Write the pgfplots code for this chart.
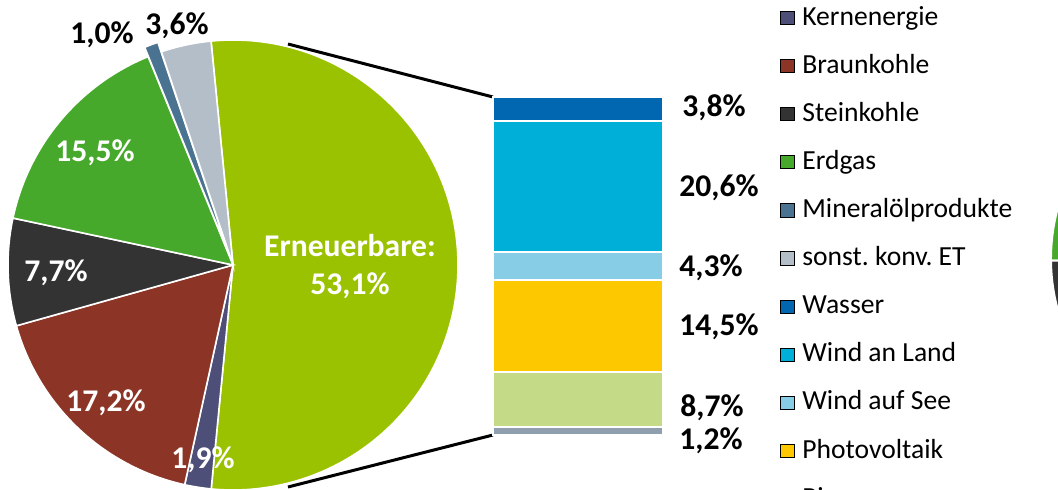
\documentclass[border=0pt]{standalone}
\usepackage{fontspec}
\setmainfont{Carlito}
\usepackage{pgfplots}
\pgfplotsset{compat=1.18}

\definecolor{kern}{HTML}{4E4F78}
\definecolor{braun}{HTML}{8C3527}
\definecolor{stein}{HTML}{333333}
\definecolor{erdgas}{HTML}{47A92B}
\definecolor{mineral}{HTML}{4A7392}
\definecolor{sonst}{HTML}{B4BEC8}
\definecolor{ren}{HTML}{9BC200}
\definecolor{wasser}{HTML}{0067B0}
\definecolor{windland}{HTML}{00AFD7}
\definecolor{windsee}{HTML}{87CDE6}
\definecolor{pv}{HTML}{FDC800}
\definecolor{bio}{HTML}{C4DA87}
\definecolor{rest}{HTML}{8F9FAE}

% pie slice: [extra style]{from %}{to %}{colour}, clockwise, renewables centred on the right
\newcommand\pieslice[4][]{%
  \fill[#4, draw=white, line width=0.8bp, #1] (axis cs:233,225)
    -- +({95.6-3.6*#2}:112.5bp)
    arc[start angle={95.6-3.6*#2}, end angle={95.6-3.6*#3}, radius=112.5bp] -- cycle;}

\tikzset{
  lbl/.style={font=\bfseries\fontsize{15.8bp}{19bp}\selectfont, inner sep=0pt},
}

\begin{document}
\frenchspacing
\begin{tikzpicture}
% main canvas: one unit = one pixel of the reference
\begin{axis}[
  x=0.5bp, y=0.5bp, xmin=0, xmax=1058, ymin=0, ymax=490,
  hide axis, clip=true,
  legend image code/.code={\fill[#1] (0bp,-3.3bp) rectangle (6.6bp,3.3bp); \path (10.6bp,0bp);},
  legend cell align=left,
  legend style={at={(axis cs:780,486.3)}, anchor=north west, draw=none, fill=none,
    inner sep=0pt, row sep=10.25bp, column sep=0pt,
    font=\fontsize{13.8bp}{16bp}\selectfont,
    nodes={anchor=west, inner sep=0pt, text height=10.5bp, text depth=3.3bp}},
]
\coordinate (barbl) at (axis cs:493,55.3);

% pie (shares in %)
\pieslice{0}{53.1}{ren}
\pieslice{53.1}{55.0}{kern}
\pieslice{55.0}{72.2}{braun}
\pieslice{72.2}{79.9}{stein}
\pieslice{79.9}{95.4}{erdgas}
\pieslice[shift={(110.4:5bp)}]{95.4}{96.4}{mineral}
\pieslice{96.4}{100}{sonst}

% edge of the next pie, cut off at the right border
\fill[erdgas, draw=white, line width=1bp] (axis cs:1244,231) -- +(100:96.5bp) arc[start angle=100, end angle=180.5, radius=96.5bp] -- cycle;
\fill[stein, draw=white, line width=1bp] (axis cs:1244,231) -- +(180.5:96.5bp) arc[start angle=180.5, end angle=215, radius=96.5bp] -- cycle;
\fill[braun, draw=white, line width=1bp] (axis cs:1244,231) -- +(215:96.5bp) arc[start angle=215, end angle=270, radius=96.5bp] -- cycle;

% connector lines
\draw[black, line width=1.5bp] (axis cs:288,446) -- (axis cs:493,393);
\draw[black, line width=1.5bp] (axis cs:288,3) -- (axis cs:493,55);

% pie labels
\node[lbl, white, align=center] at (axis cs:350,223) {Erneuerbare:\\53,1\%};
\node[lbl, white] at (axis cs:95,337) {15,5\%};
\node[lbl, white] at (axis cs:56,217) {7,7\%};
\node[lbl, white] at (axis cs:106,87) {17,2\%};
\node[lbl, white] at (axis cs:203,30) {1,9\%};
\node[lbl] at (axis cs:102,455) {1,0\%};
\node[lbl] at (axis cs:177,464) {3,6\%};

% bar labels
\node[lbl, anchor=west] at (axis cs:682,382) {3,8\%};
\node[lbl, anchor=west] at (axis cs:679,302) {20,6\%};
\node[lbl, anchor=west] at (axis cs:679,222) {4,3\%};
\node[lbl, anchor=west] at (axis cs:679,163) {14,5\%};
\node[lbl, anchor=west] at (axis cs:680,82) {8,7\%};
\node[lbl, anchor=west] at (axis cs:679,49) {1,2\%};

\addlegendimage{fill=kern}\addlegendentry{Kernenergie}
\addlegendimage{fill=braun}\addlegendentry{Braunkohle}
\addlegendimage{fill=stein}\addlegendentry{Steinkohle}
\addlegendimage{fill=erdgas}\addlegendentry{Erdgas}
\addlegendimage{fill=mineral}\addlegendentry{Mineralölprodukte}
\addlegendimage{fill=sonst}\addlegendentry{sonst. konv. ET}
\addlegendimage{fill=wasser}\addlegendentry{Wasser}
\addlegendimage{fill=windland}\addlegendentry{Wind an Land}
\addlegendimage{fill=windsee}\addlegendentry{Wind auf See}
\addlegendimage{fill=pv}\addlegendentry{Photovoltaik}
\addlegendimage{fill=bio}\addlegendentry{Biomasse}
\end{axis}

% stacked bar of the renewables
\begin{axis}[
  at={(barbl)}, anchor=south west, scale only axis,
  width=85bp, height=168.7bp,
  xmin=0, xmax=1, ymin=0, ymax=53.1,
  hide axis, clip=false,
  ybar stacked, bar width=85bp,
  every axis plot/.append style={draw=white, line width=1bp},
]
\addplot[fill=rest] coordinates {(0.5,1.2)};
\addplot[fill=bio] coordinates {(0.5,8.7)};
\addplot[fill=pv] coordinates {(0.5,14.5)};
\addplot[fill=windsee] coordinates {(0.5,4.3)};
\addplot[fill=windland] coordinates {(0.5,20.6)};
\addplot[fill=wasser] coordinates {(0.5,3.8)};
\end{axis}

\pgfresetboundingbox
\path[use as bounding box] (0,0) rectangle (529bp,245bp);
\end{tikzpicture}
\end{document}
